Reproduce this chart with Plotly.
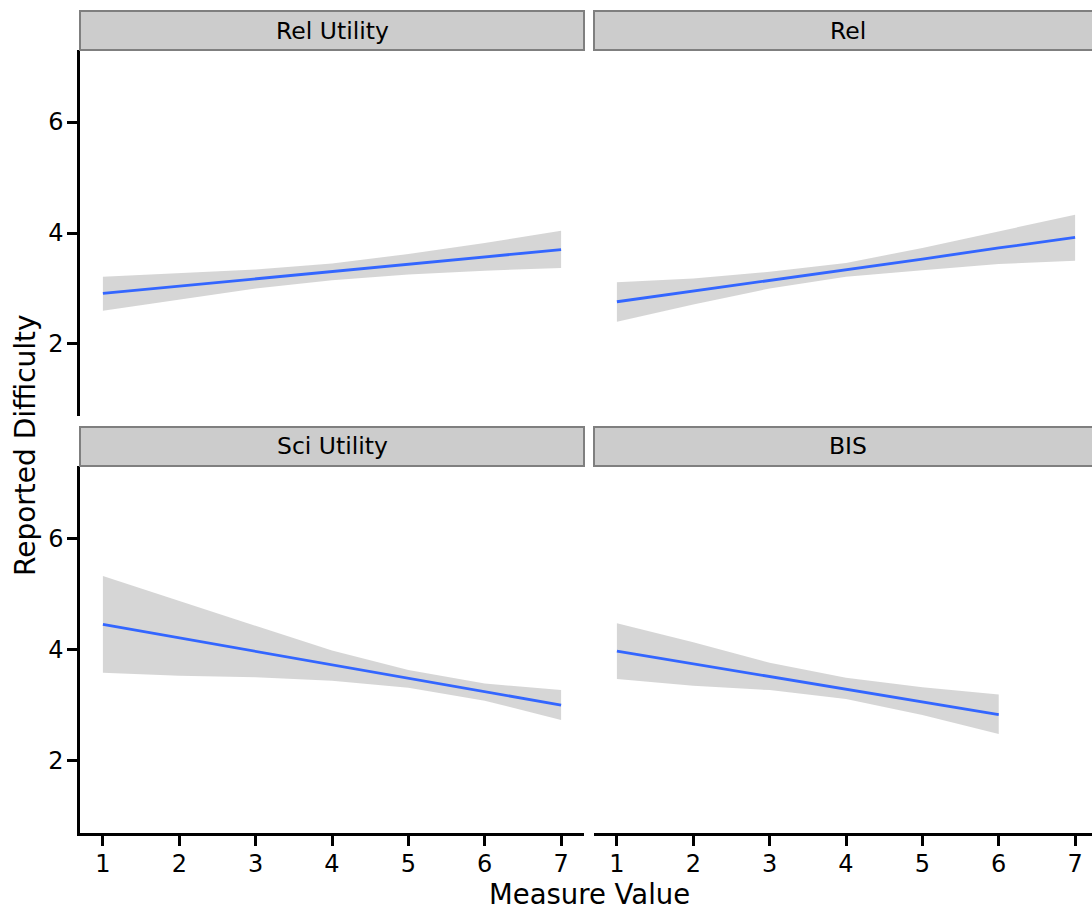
import plotly.graph_objects as go

# ---- data ----
panels = ["Rel Utility", "Rel", "Sci Utility", "BIS"]

rel_utility_x = [1, 2, 3, 4, 5, 6, 7]
rel_utility_fit = [2.91, 3.04, 3.17, 3.30, 3.44, 3.57, 3.70]
rel_utility_lo = [2.60, 2.80, 3.00, 3.15, 3.25, 3.32, 3.37]
rel_utility_hi = [3.21, 3.28, 3.34, 3.45, 3.62, 3.82, 4.04]

rel_x = [1, 2, 3, 4, 5, 6, 7]
rel_fit = [2.76, 2.95, 3.15, 3.34, 3.53, 3.73, 3.92]
rel_lo = [2.40, 2.71, 3.00, 3.21, 3.33, 3.44, 3.50]
rel_hi = [3.11, 3.18, 3.30, 3.46, 3.73, 4.03, 4.33]

sci_utility_x = [1, 2, 3, 4, 5, 6, 7]
sci_utility_fit = [4.45, 4.21, 3.97, 3.72, 3.48, 3.24, 3.00]
sci_utility_lo = [3.58, 3.53, 3.50, 3.44, 3.31, 3.08, 2.73]
sci_utility_hi = [5.32, 4.87, 4.42, 3.98, 3.63, 3.39, 3.27]

bis_x = [1, 2, 3, 4, 5, 6]
bis_fit = [3.97, 3.74, 3.51, 3.29, 3.06, 2.83]
bis_lo = [3.47, 3.35, 3.27, 3.11, 2.82, 2.48]
bis_hi = [4.47, 4.13, 3.76, 3.49, 3.32, 3.19]

x_ticks = [1, 2, 3, 4, 5, 6, 7]
y_ticks = [2, 4, 6]

series = [
    (rel_utility_x, rel_utility_fit, rel_utility_lo, rel_utility_hi),
    (rel_x, rel_fit, rel_lo, rel_hi),
    (sci_utility_x, sci_utility_fit, sci_utility_lo, sci_utility_hi),
    (bis_x, bis_fit, bis_lo, bis_hi),
]

# ---- layout geometry (pixels) ----
W, H = 1092, 909
FONT = "DejaVu Sans"
col_px = [(80, 584), (594, 1092)]
row_px = [(50, 416), (466, 833)]   # panel top, bottom
strip_px = [(11, 50), (427, 466)]
px_per_unit = (584 - 80) / 6.6

def px2x(p):
    return p / W

def px2y(p):
    return (H - p) / H

fig = go.Figure()

axis_ids = ["", "2", "3", "4"]
for i, (xs, fit, lo, hi) in enumerate(series):
    aid = axis_ids[i]
    xref = "x" + aid
    yref = "y" + aid
    fig.add_trace(go.Scatter(
        x=list(xs) + list(xs)[::-1], y=list(hi) + list(lo)[::-1],
        fill="toself", fillcolor="rgba(153,153,153,0.4)", line=dict(width=0),
        mode="lines", hoverinfo="skip", showlegend=False,
        xaxis=xref, yaxis=yref))
    fig.add_trace(go.Scatter(
        x=xs, y=fit, mode="lines", line=dict(color="#3366FF", width=2.8),
        showlegend=False, xaxis=xref, yaxis=yref))

layout = dict(
    width=W, height=H,
    margin=dict(l=0, r=0, t=0, b=0),
    paper_bgcolor="white", plot_bgcolor="white",
    font=dict(family=FONT, color="black"),
    showlegend=False,
)

for i in range(4):
    r, c = divmod(i, 2)
    aid = axis_ids[i]
    x0, x1 = col_px[c]
    top, bot = row_px[r]
    xr1 = 0.7 + (x1 - x0) / px_per_unit
    bottom_row = (r == 1)
    left_col = (c == 0)
    layout["xaxis" + aid] = dict(
        domain=[px2x(x0), min(px2x(x1), 1.0)], range=[0.7, xr1],
        anchor="y" + aid, showgrid=False, zeroline=False,
        tickvals=x_ticks, showline=bottom_row, linecolor="black", linewidth=2.5,
        ticks="outside" if bottom_row else "", ticklen=10, tickwidth=2.5, tickcolor="black",
        showticklabels=bottom_row, tickfont=dict(family=FONT, size=24, color="black"),
        ticklabelstandoff=-3,
    )
    layout["yaxis" + aid] = dict(
        domain=[px2y(bot), px2y(top)], range=[0.7, 7.3],
        anchor="x" + aid, showgrid=False, zeroline=False,
        tickvals=y_ticks, showline=left_col, linecolor="black", linewidth=2.5,
        ticks="outside" if left_col else "", ticklen=10, tickwidth=2.5, tickcolor="black",
        showticklabels=left_col, tickfont=dict(family=FONT, size=24, color="black"),
        ticklabelstandoff=-1,
    )

shapes = []
annotations = []
for i, name in enumerate(panels):
    r, c = divmod(i, 2)
    x0, x1 = col_px[c]
    s0, s1 = strip_px[r]
    x1e = x1 + 10 if c == 1 else x1
    shapes.append(dict(type="rect", xref="paper", yref="paper",
                       x0=px2x(x0), x1=px2x(x1e), y0=px2y(s1), y1=px2y(s0),
                       fillcolor="#CCCCCC", line=dict(color="#7F7F7F", width=2),
                       layer="above"))
    annotations.append(dict(text=name, xref="paper", yref="paper",
                            x=px2x((x0 + x1 + 10) / 2 if c == 1 else (x0 + x1) / 2),
                            y=px2y((s0 + s1) / 2),
                            xanchor="center", yanchor="middle", showarrow=False,
                            font=dict(family=FONT, size=23.5, color="black")))

annotations.append(dict(text="Measure Value", xref="paper", yref="paper",
                        x=px2x(589), y=-2 / H, xanchor="center", yanchor="bottom",
                        showarrow=False, borderpad=0,
                        font=dict(family=FONT, size=27.5, color="black")))
annotations.append(dict(text="Reported Difficulty", xref="paper", yref="paper",
                        x=px2x(25), y=px2y(445), xanchor="center", yanchor="middle",
                        textangle=-90, showarrow=False,
                        font=dict(family=FONT, size=28, color="black")))

layout["shapes"] = shapes
layout["annotations"] = annotations
fig.update_layout(**layout)

fig.write_html("out.html")
